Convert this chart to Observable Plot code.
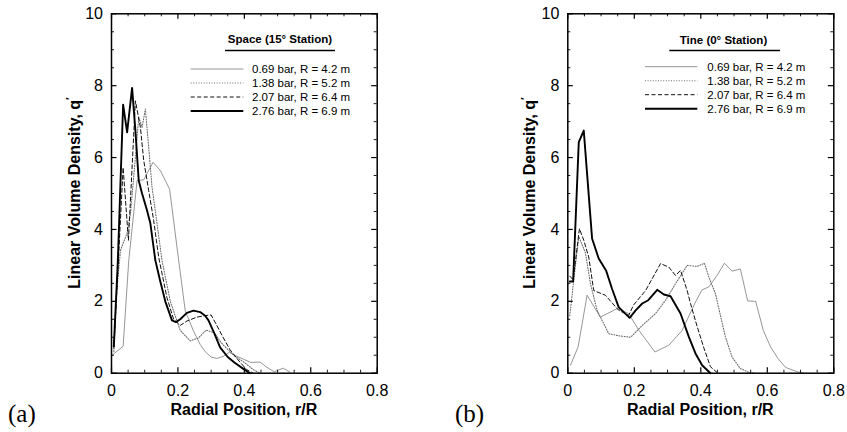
<!DOCTYPE html>
<html><head><meta charset="utf-8">
<script src="https://cdn.jsdelivr.net/npm/d3@7"></script>
<script src="https://cdn.jsdelivr.net/npm/@observablehq/plot@0.6"></script>
<style>
body{margin:0;background:#fff;}
#wrap{position:relative;width:847px;height:432px;overflow:hidden;background:#fff;}
#wrap svg{position:absolute;top:0;}
</style></head><body><div id="wrap"></div>
<script>
const xMajor = [0, 0.2, 0.4, 0.6, 0.8];
const xMinor = [0.05, 0.1, 0.15, 0.25, 0.3, 0.35, 0.45, 0.5, 0.55, 0.65, 0.7, 0.75];
const yMajor = [0, 2, 4, 6, 8, 10];
const yMinor = [0.5, 1, 1.5, 2.5, 3, 3.5, 4.5, 5, 5.5, 6.5, 7, 7.5, 8.5, 9, 9.5];
const xTickLabels = ["0", "0.2", "0.4", "0.6", "0.8"];
const yTickLabels = ["0", "2", "4", "6", "8", "10"];
const seriesLabels = ["0.69 bar, R = 4.2 m", "1.38 bar, R = 5.2 m", "2.07 bar, R = 6.4 m", "2.76 bar, R = 6.9 m"];

// Panel (a): Space (15° Station)
const space069 = [[0.002,0.5],[0.035,0.75],[0.052,3.14],[0.077,5.36],[0.097,5.38],[0.125,5.87],[0.147,5.64],[0.175,5.12],[0.2,3.3],[0.222,1.74],[0.247,1.17],[0.267,0.8],[0.282,0.6],[0.3,0.45],[0.317,0.41],[0.337,0.47],[0.355,0.58],[0.375,0.48],[0.4,0.38],[0.42,0.3],[0.447,0.31],[0.467,0.17],[0.49,0.04],[0.517,0.14],[0.537,0.03]];
const space138 = [[0.007,0.6],[0.015,2.2],[0.027,3.42],[0.047,3.9],[0.057,4.44],[0.07,5.8],[0.082,7.12],[0.092,6.84],[0.102,7.35],[0.112,6.29],[0.122,5.18],[0.137,4.17],[0.152,3.14],[0.177,2.0],[0.207,1.19],[0.237,0.9],[0.262,0.98],[0.285,1.2],[0.31,1.12],[0.33,0.85],[0.35,0.66],[0.375,0.45],[0.4,0.3],[0.427,0.1],[0.447,0]];
const space207 = [[0.007,0.7],[0.02,3.0],[0.035,5.72],[0.051,3.7],[0.072,7.58],[0.087,6.84],[0.097,5.92],[0.112,5.08],[0.127,4.25],[0.142,3.23],[0.167,2.1],[0.187,1.5],[0.207,1.33],[0.227,1.45],[0.257,1.56],[0.28,1.6],[0.3,1.62],[0.317,1.33],[0.337,0.98],[0.357,0.65],[0.38,0.38],[0.407,0.1],[0.427,0]];
const space276 = [[0.007,0.75],[0.019,3.1],[0.035,7.47],[0.047,6.7],[0.062,7.94],[0.072,6.75],[0.082,5.36],[0.092,5.0],[0.107,4.53],[0.117,4.17],[0.132,3.14],[0.147,2.55],[0.162,2.0],[0.182,1.47],[0.194,1.42],[0.207,1.5],[0.227,1.68],[0.247,1.74],[0.267,1.7],[0.282,1.6],[0.292,1.47],[0.31,1.1],[0.327,0.72],[0.35,0.45],[0.37,0.3],[0.397,0.12],[0.417,0]];

// Panel (b): Tine (0° Station)
const tine069 = [[0.008,0.22],[0.031,0.73],[0.058,2.17],[0.098,1.56],[0.149,1.8],[0.183,1.66],[0.214,1.19],[0.262,0.59],[0.304,0.78],[0.344,1.19],[0.384,1.98],[0.404,2.32],[0.424,2.4],[0.449,2.72],[0.471,3.06],[0.494,2.84],[0.519,2.9],[0.541,2.01],[0.565,2.0],[0.588,1.19],[0.61,0.73],[0.632,0.41],[0.655,0.16],[0.69,0.04],[0.71,0]];
const tine138 = [[0.006,1.6],[0.018,2.6],[0.033,3.8],[0.053,3.35],[0.068,2.5],[0.088,1.75],[0.123,1.1],[0.153,1.04],[0.189,1.0],[0.224,1.33],[0.264,1.66],[0.294,2.03],[0.324,2.49],[0.359,3.0],[0.389,2.97],[0.411,3.06],[0.424,2.68],[0.444,2.21],[0.459,1.61],[0.474,1.01],[0.494,0.45],[0.519,0.13],[0.545,0.02],[0.56,0]];
const tine207 = [[0.006,2.7],[0.016,2.6],[0.035,4.02],[0.048,3.7],[0.063,3.23],[0.078,2.3],[0.113,2.17],[0.153,1.75],[0.183,1.61],[0.198,1.9],[0.234,2.3],[0.279,3.05],[0.304,2.95],[0.324,2.72],[0.339,2.86],[0.359,2.3],[0.369,1.94],[0.389,1.3],[0.41,0.68],[0.429,0.18],[0.449,0.02]];
const tine276 = [[0.006,2.55],[0.016,2.55],[0.033,6.43],[0.048,6.75],[0.073,3.75],[0.093,3.19],[0.115,2.86],[0.133,2.35],[0.153,1.84],[0.186,1.54],[0.204,1.75],[0.224,1.94],[0.242,2.03],[0.269,2.32],[0.289,2.19],[0.309,2.14],[0.339,1.66],[0.364,1.01],[0.384,0.55],[0.404,0.22],[0.429,0]];

const styles = [
  {stroke: "#8a8a8a", strokeWidth: 0.9, dash: null},
  {stroke: "#6e6e6e", strokeWidth: 1.1, dash: "1,1.6"},
  {stroke: "#111", strokeWidth: 1.0, dash: "4,2.5"},
  {stroke: "#000", strokeWidth: 1.9, dash: null}
];

const FONT = "Liberation Sans, Arial, Helvetica, sans-serif";

function panel(cfg) {
  const W = cfg.width, H = 432;
  const mT = 13.3, mB = 59.3;
  const plotH = H - mT - mB;
  const plotW = W - cfg.mL - cfg.mR;
  const lineMarks = cfg.series.map((s, i) => Plot.line(s, {
    x: d => d[0], y: d => d[1],
    stroke: styles[i].stroke, strokeWidth: styles[i].strokeWidth,
    strokeDasharray: styles[i].dash, strokeLinejoin: "round"
  }));
  const svg = Plot.plot({
    width: W, height: H,
    marginLeft: cfg.mL, marginRight: cfg.mR, marginTop: mT, marginBottom: mB,
    style: {fontFamily: FONT, background: "#fff", color: "#000", overflow: "visible"},
    x: {domain: [0, 0.8]},
    y: {domain: [0, 10]},
    marks: [
      ...lineMarks,
      Plot.tickX(xMajor, {x: d => d, insetTop: plotH - 5.5, stroke: "#000", strokeWidth: 1.2}),
      Plot.tickX(xMajor, {x: d => d, insetBottom: plotH - 5.5, stroke: "#000", strokeWidth: 1.2}),
      Plot.tickX(xMinor, {x: d => d, insetTop: plotH - 3, stroke: "#000", strokeWidth: 0.9}),
      Plot.tickX(xMinor, {x: d => d, insetBottom: plotH - 3, stroke: "#000", strokeWidth: 0.9}),
      Plot.tickY(yMajor, {y: d => d, insetRight: plotW - 5.5, stroke: "#000", strokeWidth: 1.2}),
      Plot.tickY(yMajor, {y: d => d, insetLeft: plotW - 5.5, stroke: "#000", strokeWidth: 1.2}),
      Plot.tickY(yMinor, {y: d => d, insetRight: plotW - 3, stroke: "#000", strokeWidth: 0.9}),
      Plot.tickY(yMinor, {y: d => d, insetLeft: plotW - 3, stroke: "#000", strokeWidth: 0.9}),
      Plot.axisX(xMajor, {anchor: "bottom", tickSize: 0, tickPadding: 11, fontSize: 16, label: null,
        tickFormat: (d, i) => xTickLabels[i]}),
      Plot.axisY(yMajor, {anchor: "left", tickSize: 0, tickPadding: 8.5, fontSize: 16, label: null,
        tickFormat: (d, i) => yTickLabels[i]}),
      Plot.frame({stroke: "#000", strokeWidth: 1.5})
    ]
  });
  svg.style.left = cfg.left + "px";
  const g = d3.select(svg).append("g").attr("font-family", FONT).attr("fill", "#000")
    .attr("text-anchor", "start");
  // legend title
  g.append("text").attr("x", cfg.titleX).attr("y", cfg.titleY).attr("text-anchor", "middle")
    .attr("dy", "0.36em").attr("font-size", 11.5).attr("font-weight", "bold").text(cfg.title);
  g.append("line").attr("x1", cfg.ulX1).attr("x2", cfg.ulX2).attr("y1", cfg.ulY).attr("y2", cfg.ulY)
    .attr("stroke", "#000").attr("stroke-width", 1.5);
  seriesLabels.forEach((lab, i) => {
    const y = cfg.rowY[i];
    g.append("line").attr("x1", cfg.sX1).attr("x2", cfg.sX2).attr("y1", y).attr("y2", y)
      .attr("stroke", styles[i].stroke).attr("stroke-width", styles[i].strokeWidth)
      .attr("stroke-dasharray", styles[i].dash);
    g.append("text").attr("x", cfg.tX).attr("y", y).attr("dy", "0.36em")
      .attr("text-anchor", "start").attr("font-size", 11.5).text(lab);
  });
  // axis labels
  g.append("text").attr("x", cfg.mL + plotW / 2).attr("y", 415).attr("text-anchor", "middle")
    .attr("font-size", 16).attr("font-weight", "bold").text("Radial Position, r/R");
  const yl = g.append("text").attr("transform", `translate(${cfg.ylX},193) rotate(-90)`)
    .attr("text-anchor", "middle").attr("dy", "0.36em")
    .attr("font-size", 16).attr("font-weight", "bold");
  yl.append("tspan").text("Linear Volume Density, q");
  yl.append("tspan").attr("dy", "-0.55em").attr("font-size", 11).text("′");
  // panel letter
  g.append("text").attr("x", cfg.letterX).attr("y", 422).attr("text-anchor", "start")
    .attr("font-family", "Liberation Serif, Times New Roman, serif")
    .attr("font-size", 25).text(cfg.letter);
  return svg;
}

const wrap = document.getElementById("wrap");
wrap.appendChild(panel({
  left: 0, width: 423, mL: 111, mR: 46.3,
  series: [space069, space138, space207, space276],
  title: "Space (15° Station)", titleX: 280, titleY: 39,
  ulX1: 225, ulX2: 335, ulY: 50.5,
  sX1: 190.7, sX2: 243.3, tX: 252, rowY: [69, 83, 97, 111],
  ylX: 74, letter: "(a)", letterX: 8
}));
wrap.appendChild(panel({
  left: 423, width: 424, mL: 144.3, mR: 13.7,
  series: [tine069, tine138, tine207, tine276],
  title: "Tine (0° Station)", titleX: 300.5, titleY: 40,
  ulX1: 246.3, ulX2: 357, ulY: 50.5,
  sX1: 222, sX2: 274.3, tX: 284.3, rowY: [66.7, 80.7, 94.7, 108.7],
  ylX: 106, letter: "(b)", letterX: 32
}));
</script></body></html>
